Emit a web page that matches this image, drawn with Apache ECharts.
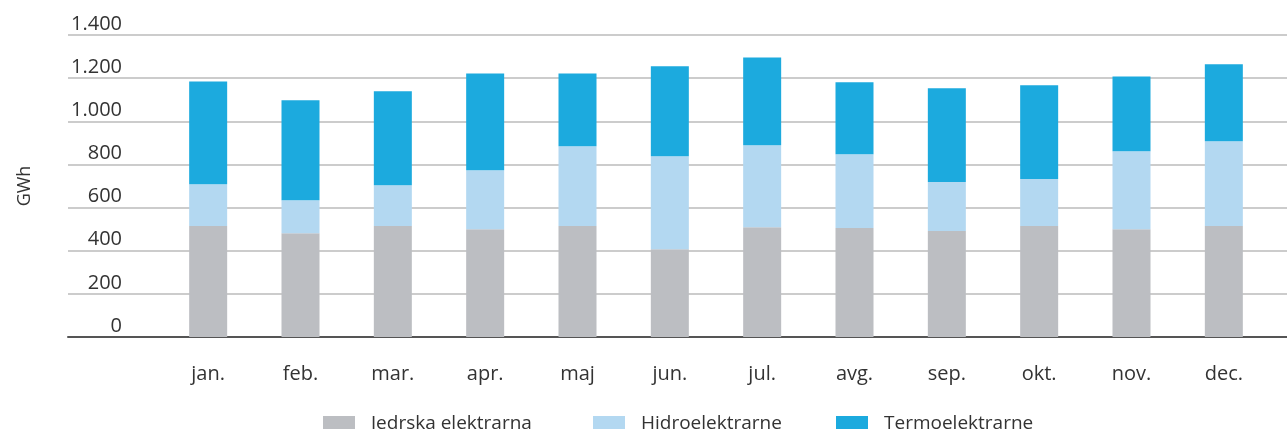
<!DOCTYPE html>
<html>
<head>
<meta charset="utf-8">
<script src="https://cdn.jsdelivr.net/npm/echarts@6/dist/echarts.min.js"></script>
<style>
	html, body { margin: 0; padding: 0; background: #fff; }
	#chart { width: 1287px; height: 429px; }
</style>
</head>
<body>
<div id="chart"></div>
<script>
let months = ['jan.', 'feb.', 'mar.', 'apr.', 'maj', 'jun.', 'jul.', 'avg.', 'sep.', 'okt.', 'nov.', 'dec.'];
let jedrska = [514, 481, 514, 500, 514, 407, 509, 505, 491, 514, 500, 514];
let hidro = [194, 153, 190, 273, 370, 431, 380, 342, 227, 218, 361, 393];
let termo = [477, 463, 435, 449, 338, 417, 407, 334, 435, 435, 347, 357];
let yTicks = { min: 0, max: 1400, interval: 200 };

let font = 'Open Sans';
let textColor = '#333333';

var myChart = echarts.init(document.getElementById('chart'));

// grid 0 only draws the gridlines + y labels, grid 1 holds the bars
let option = {
	animation: false,
	grid: [
		{ left: 68, right: 0, top: 35, bottom: 92 },
		{ left: 162, right: 17, top: 35, bottom: 92 },
	],
	legend: [
		{ left: 323, data: ['Jedrska elektrarna'] },
		{ left: 593, data: ['Hidroelektrarne'] },
		{ left: 836, data: ['Termoelektrarne'] },
	].map((l) => ({
		left: l.left,
		top: 414,
		data: l.data,
		itemWidth: 32,
		itemHeight: 15,
		itemGap: 17,
		padding: 0,
		icon: 'rect',
		textStyle: { fontFamily: font, fontSize: 19, color: textColor, padding: [0, 0, 0, 11] },
		selectedMode: false,
	})),
	xAxis: [
		{
			gridIndex: 0,
			type: 'category',
			data: months,
			axisLine: { show: true, lineStyle: { color: '#555555', width: 2 } },
			axisTick: { show: false },
			axisLabel: { show: false },
		},
		{
			gridIndex: 1,
			type: 'category',
			data: months,
			axisLine: { show: false },
			axisTick: { show: false },
			axisLabel: { fontFamily: font, fontSize: 20, color: textColor, margin: 27 },
		},
	],
	yAxis: [
		{
			gridIndex: 0,
			type: 'value',
			min: yTicks.min,
			max: yTicks.max,
			interval: yTicks.interval,
			name: 'GWh',
			nameLocation: 'middle',
			nameRotate: 90,
			nameGap: 34,
			nameTextStyle: { fontFamily: font, fontSize: 18, color: textColor },
			axisLine: { show: false },
			axisTick: { show: false },
			axisLabel: {
				fontFamily: font,
				fontSize: 20,
				color: textColor,
				align: 'right',
				verticalAlign: 'bottom',
				margin: -54,
				padding: [0, 0, 1, 0],
				formatter: (v) => v.toLocaleString('de-DE'),
			},
			splitLine: { lineStyle: { color: '#cccccc', width: 2 } },
		},
		{
			gridIndex: 1,
			type: 'value',
			min: yTicks.min,
			max: yTicks.max,
			interval: yTicks.interval,
			show: false,
			splitLine: { show: false },
		},
	],
	series: [
		{ name: 'Jedrska elektrarna', data: jedrska, color: '#bcbec2' },
		{ name: 'Hidroelektrarne', data: hidro, color: '#b3d8f1' },
		{ name: 'Termoelektrarne', data: termo, color: '#1caade' },
	].map((s) => ({
		name: s.name,
		type: 'bar',
		stack: 'total',
		xAxisIndex: 1,
		yAxisIndex: 1,
		barWidth: 38,
		data: s.data,
		itemStyle: { color: s.color },
		emphasis: { disabled: true },
	})),
};

option && myChart.setOption(option);
</script>
</body>
</html>
